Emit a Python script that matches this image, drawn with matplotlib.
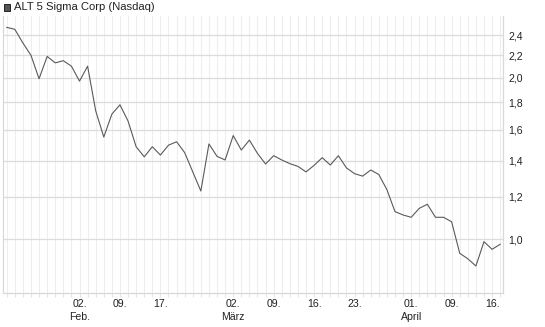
import matplotlib
matplotlib.use('Agg')
import matplotlib.pyplot as plt
from matplotlib.patches import Rectangle
from matplotlib.ticker import FixedLocator, NullLocator

# daily closes, 20 Jan - 17 Apr (trading days)
prices = [2.48, 2.46, 2.32, 2.20, 1.99, 2.19, 2.13, 2.15, 2.10, 1.97,
          2.10, 1.735, 1.55, 1.71, 1.78, 1.66, 1.487, 1.424, 1.487, 1.435,
          1.497, 1.519, 1.45, 1.335, 1.23, 1.505, 1.427, 1.405, 1.56, 1.466,
          1.53, 1.445, 1.381, 1.431, 1.405, 1.383, 1.367, 1.335, 1.373, 1.419,
          1.375, 1.431, 1.358, 1.325, 1.311, 1.346, 1.32, 1.237, 1.126, 1.110,
          1.099, 1.142, 1.162, 1.099, 1.099, 1.078, 0.942, 0.920, 0.892, 0.990,
          0.958, 0.979]

tick_pos = [9, 14, 19, 28, 33, 38, 43, 50, 55, 60]
tick_labels = ['02.\nFeb.', '09.', '17.', '02.\nMärz', '09.', '16.', '23.',
               '01.\nApril', '09.', '16.']

y_ticks = [1.0, 1.2, 1.4, 1.6, 1.8, 2.0, 2.2, 2.4]
y_labels = ['1,0', '1,2', '1,4', '1,6', '1,8', '2,0', '2,2', '2,4']

title = 'ALT 5 Sigma Corp (Nasdaq)'

plt.rcParams['font.family'] = ['Liberation Sans', 'DejaVu Sans']

W, H = 545, 327
fig = plt.figure(figsize=(W / 100, H / 100), dpi=100)
ax = fig.add_axes([2.5 / W, (H - 293) / H, (503 - 2.5) / W, (293 - 16) / H])

x = list(range(len(prices)))
ax.plot(x, prices, color='#5a5a5a', lw=0.8, zorder=3)

ax.set_yscale('log')
ax.set_ylim(0.7945, 2.604)
ax.set_xlim(-0.52, 61.35)

ax.yaxis.set_major_locator(FixedLocator(y_ticks))
ax.yaxis.set_minor_locator(NullLocator())
ax.set_yticks(y_ticks)
ax.set_yticklabels(y_labels)
ax.yaxis.tick_right()
ax.tick_params(axis='y', length=0, pad=4, labelsize=7.6, labelcolor='#222222')

# every trading day gets a light vertical line
ax.set_xticks(x, minor=True)
ax.set_xticks(tick_pos)
ax.set_xticklabels(tick_labels, linespacing=1.3)
ax.tick_params(axis='x', which='both', length=3, color='#e6e6e6', width=0.8)
ax.tick_params(axis='x', which='major', pad=1.5, labelsize=7.6, labelcolor='#222222')

ax.grid(axis='x', which='both', color='#eeeeee', lw=0.8, zorder=0)
ax.grid(axis='y', which='major', color='#dcdcdc', lw=0.9, zorder=1)

for side in ['left', 'right', 'bottom']:
    ax.spines[side].set_color('#d8d8d8')
    ax.spines[side].set_linewidth(0.9)
ax.spines['top'].set_visible(False)

fig.add_artist(Rectangle((3.5 / W, 1 - 10.5 / H), 6.5 / W, 6.5 / H,
                         transform=fig.transFigure, facecolor='#555555',
                         edgecolor='#222222', lw=0.7))
fig.text(14 / W, 1 - 10.2 / H, title, fontsize=8.1, color='#222222',
         va='baseline', ha='left')

fig.savefig('out.png', dpi=100)
